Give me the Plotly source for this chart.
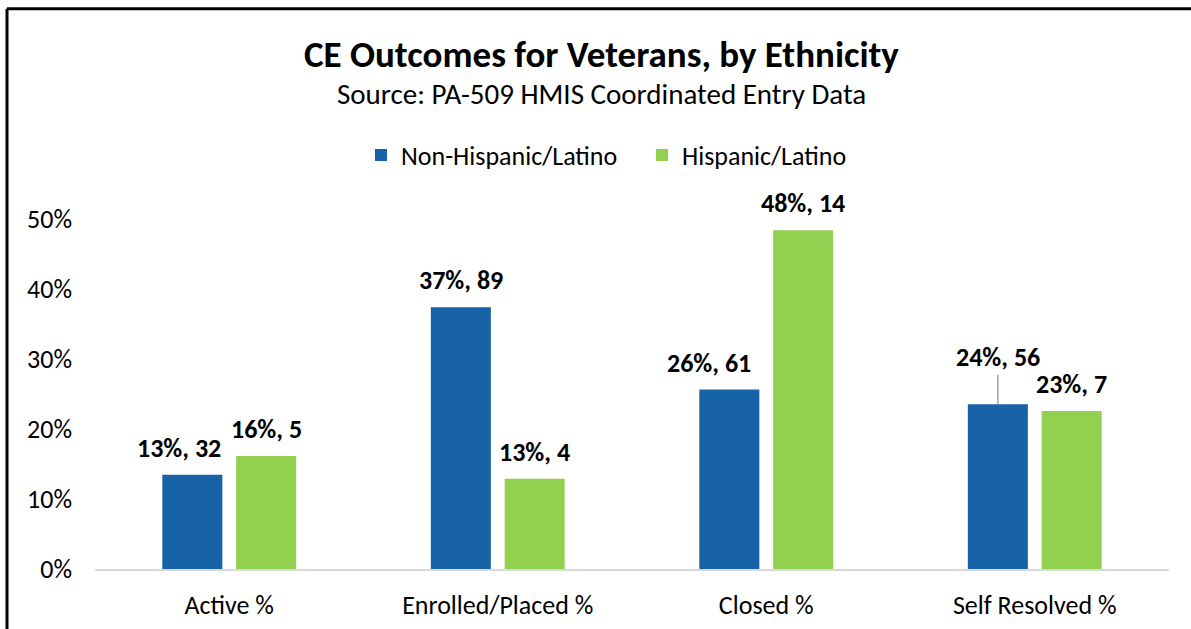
import plotly.graph_objects as go

# Outcome categories and per-ethnicity results
categories = ["Active %", "Enrolled/Placed %", "Closed %", "Self Resolved %"]
non_hisp_pct = [13.45, 37.39, 25.63, 23.53]
non_hisp_n = [32, 89, 61, 56]
hisp_pct = [16.13, 12.90, 48.39, 22.58]
hisp_n = [5, 4, 14, 7]
series_names = ["Non-Hispanic/Latino", "Hispanic/Latino"]
y_ticks = [0, 10, 20, 30, 40, 50]
y_tick_text = [f"{v}%" for v in y_ticks]

FONT = "Calibri, Carlito, Lato, sans-serif"
BLUE = "#1862A8"
GREEN = "#92D050"
TXT = 26

W, H = 1191, 629
M_L, M_R, M_T, M_B = 95, 22, 219, 59.5
BARGAP, GROUPGAP = 0.45, 0.187

fig = go.Figure()
fig.add_trace(go.Bar(x=categories, y=non_hisp_pct, name=series_names[0],
                     marker=dict(color=BLUE, line=dict(width=0))))
fig.add_trace(go.Bar(x=categories, y=hisp_pct, name=series_names[1],
                     marker=dict(color=GREEN, line=dict(width=0))))

# pixel geometry of the plot area and grouped bars
plot_w = W - M_L - M_R
plot_h = H - M_T - M_B
slot = plot_w / len(categories) * (1 - BARGAP) / 2
offsets = [-slot / 2, slot / 2]


def px_to_paper(px, py):
    return (px - M_L) / plot_w, (H - M_B - py) / plot_h


# manual nudges for a few labels (dx, dy in px; leader line when raised)
nudges = {(0, 0): (-13, 0), (0, 2): (-20, 0), (0, 3): (0, 20)}

label_font = dict(family=FONT, size=TXT, color="black")
for s, (pcts, counts) in enumerate([(non_hisp_pct, non_hisp_n), (hisp_pct, hisp_n)]):
    for i, (cat, p, n) in enumerate(zip(categories, pcts, counts)):
        dx, dy = nudges.get((s, i), (0, 0))
        text = f"<b>{p:.0f}%, {n}</b>"
        if dy:
            fig.add_annotation(x=cat, y=p, xref="x", yref="y", text=text,
                               xshift=offsets[s] + dx, showarrow=True,
                               arrowhead=0, arrowwidth=1.5, arrowcolor="#A6A6A6",
                               ax=0, ay=-(27 + dy), standoff=0, font=label_font)
        else:
            fig.add_annotation(x=cat, y=p, xref="x", yref="y", text=text,
                               xshift=offsets[s] + dx, yshift=27, yanchor="middle",
                               showarrow=False, font=label_font)

# title and subtitle
tx, ty = px_to_paper(601, 54)
fig.add_annotation(x=tx, y=ty, xref="paper", yref="paper", showarrow=False,
                   xanchor="center", yanchor="middle",
                   text="<b>CE Outcomes for Veterans, by Ethnicity</b>",
                   font=dict(family=FONT, size=37, color="black"))
sx, sy = px_to_paper(601, 94)
fig.add_annotation(x=sx, y=sy, xref="paper", yref="paper", showarrow=False,
                   xanchor="center", yanchor="middle",
                   text="Source: PA-509 HMIS Coordinated Entry Data",
                   font=dict(family=FONT, size=29, color="black"))

# outer chart frame (left and top edges visible)
fx, fy = px_to_paper(7, 8.5)
fig.add_shape(type="line", xref="paper", yref="paper", x0=fx, x1=fx, y0=-1, y1=fy,
              line=dict(color="black", width=3))
fig.add_shape(type="line", xref="paper", yref="paper", x0=fx, x1=1.2, y0=fy, y1=fy,
              line=dict(color="black", width=3))

fig.update_layout(
    width=W, height=H,
    margin=dict(l=M_L, r=M_R, t=M_T, b=M_B, autoexpand=False),
    paper_bgcolor="white", plot_bgcolor="white",
    barmode="group", bargap=BARGAP, bargroupgap=GROUPGAP,
    font=dict(family=FONT, color="black"),
    showlegend=True,
    legend=dict(orientation="h", x=642 / W, xanchor="center", xref="container",
                y=1 - 155 / H, yanchor="middle", yref="container",
                font=dict(family=FONT, size=TXT, color="black"),
                itemwidth=30, traceorder="normal",
                entrywidth=236, entrywidthmode="pixels"),
    xaxis=dict(showgrid=False, showline=True, linecolor="#D9D9D9", linewidth=2,
               ticks="", tickfont=dict(family=FONT, size=TXT, color="black"),
               ticklabelstandoff=12, automargin=False),
    yaxis=dict(range=[0, 50], tickvals=y_ticks, ticktext=y_tick_text,
               showgrid=False, zeroline=False, showline=False, ticks="",
               tickfont=dict(family=FONT, size=TXT, color="black"),
               ticklabelstandoff=22, automargin=False),
)

fig.write_html("out.html")
